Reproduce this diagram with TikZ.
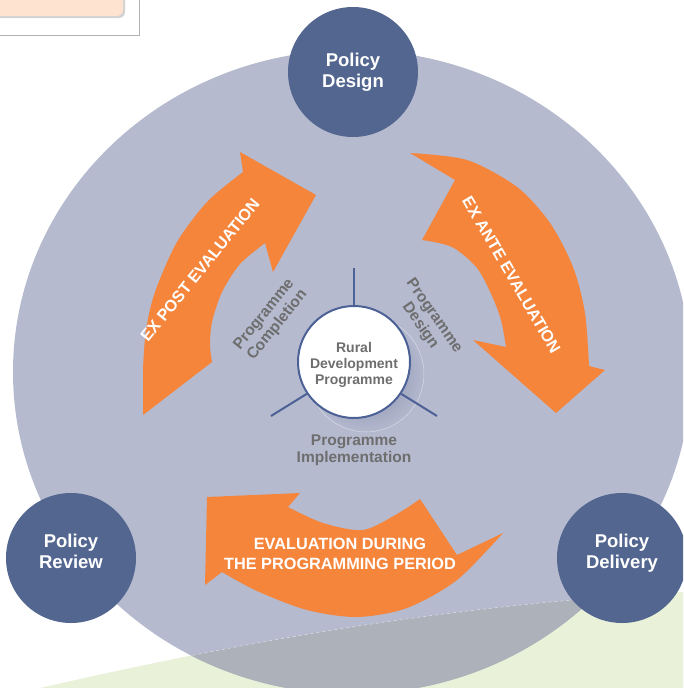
\documentclass[tikz,border=0pt]{standalone}
\usepackage{fontspec}
\setmainfont{Liberation Sans}
\usetikzlibrary{shadows}
\definecolor{lav}{HTML}{B5BACF}
\definecolor{dblue}{HTML}{536690}
\definecolor{orng}{HTML}{F5853B}
\definecolor{grayov}{HTML}{ADB2BA}
\definecolor{greenbg}{HTML}{E9F1D9}
\definecolor{txtgray}{HTML}{6E6E6E}
\definecolor{rimblue}{HTML}{4C6196}
\definecolor{peach}{HTML}{FDE3D0}
\definecolor{shadowc}{HTML}{7F87A6}
\tikzset{
  policy/.style={circle, fill=dblue, minimum size=130pt, inner sep=0pt},
  policytxt/.style={align=center, text=white, font=\bfseries\fontsize{18.5}{21}\selectfont},
  phase/.style={align=center, text=txtgray, font=\bfseries\fontsize{15.5}{17}\selectfont},
  arrowtxt/.style={align=center, text=white, font=\bfseries\fontsize{16.3}{20}\selectfont},
  spoke/.style={draw=rimblue, line width=2pt},
  bigarrow/.style={fill=orng}
}
\begin{document}
\begin{tikzpicture}[x=1pt,y=-1pt]
\useasboundingbox (0,0) rectangle (683,688);
\clip (0,0) rectangle (683,688);
\fill[white] (0,0) rectangle (683,688);
% top-left fragment
\draw[gray!60, line width=1pt, fill=white] (-5,-5) rectangle (139,35.5);
\path[fill=peach, rounded corners=6pt, drop shadow={shadow xshift=2pt,shadow yshift=-2pt,opacity=.35}] (-10,-10) rectangle (123,16);
% green band
\fill[greenbg] (40,688) .. controls (250,640) and (450,605) .. (683,592) -- (683,688) -- cycle;
% big circle
\fill[lav] (352,372) ellipse [x radius=339, y radius=322];
\begin{scope}
  \clip (40,688) .. controls (250,640) and (450,605) .. (683,592) -- (683,688) -- cycle;
  \fill[grayov] (352,372) ellipse [x radius=339, y radius=322];
\end{scope}
\begin{scope}
  \clip (352,372) ellipse [x radius=339, y radius=322];
  \draw[white, opacity=.6, line width=.5pt, dashed] (40,688) .. controls (250,640) and (450,605) .. (683,592);
\end{scope}
% policy circles
\node[policy] (design) at (353,72) {};
\node[policy] (review) at (71,558) {};
\node[policy] (delivery) at (622,558) {};
\node[policytxt] (designtxt) at (353,72) {Policy\\Design};
\node[policytxt] (reviewtxt) at (71,551) {Policy\\Review};
\node[policytxt] (deliverytxt) at (622,553) {Policy\\Delivery};
% orange arrows
\fill[bigarrow] (143,415) -- (143,368) -- plot[smooth] coordinates {(143,368) (146,330) (155,292) (177,242) (208,201) (243,172)} -- (240,152) -- (316,195) -- (273,272) -- (265,243) -- plot[smooth] coordinates {(265,243) (240,264) (222,292) (212,322) (210,345) (212,362)} -- cycle;
\fill[bigarrow] (410,153) -- plot[smooth] coordinates {(410,153) (467,160) (517,187) (550,223) (573,267) (585,313) (589,366)} -- (605,370) -- (556,413) -- (473,340) -- (506,347) -- plot[smooth] coordinates {(506,347) (501,320) (492,296) (477,268) (452,247) (422,240)} -- (455,180) -- cycle;
\fill[bigarrow] (207,497) -- (300,493) -- (288,507) -- plot[smooth] coordinates {(288,507) (323,523) (363,530) (397,514) (420,499)} -- (457,555) -- (503,533) -- plot[smooth] coordinates {(503,533) (457,580) (407,608) (357,617) (307,610) (257,591) (222,572)} -- (205,585) -- cycle;
\node[arrowtxt, rotate=51] (expost) at (200,270) {EX POST EVALUATION};
\node[arrowtxt, rotate=-59.8] (exante) at (511.5,275) {EX ANTE EVALUATION};
\node[arrowtxt] (during) at (340,554) {EVALUATION DURING\\THE PROGRAMMING PERIOD};
% centre
\shade[inner color=shadowc, outer color=lav] (366,374) circle [radius=60pt];
\draw[white, opacity=.5, line width=.5pt] (366,374) circle [radius=58pt];
\coordinate (s1) at (354,268);
\coordinate (s2) at (271,416);
\coordinate (s3) at (437,416);
\node[circle, draw=rimblue, line width=2pt, fill=white, minimum size=112pt, inner sep=0pt] (rdp) at (354,362) {};
\node[align=center, text=txtgray, font=\bfseries\fontsize{14}{16}\selectfont] (rdptxt) at (354,365) {Rural\\Development\\Programme};
\draw[spoke] (rdp.90) -- (s1);
\draw[spoke] (rdp.214) -- (s2);
\draw[spoke] (rdp.326) -- (s3);
\node[phase, rotate=51] (compl) at (271,320) {Programme\\Completion};
\node[phase, rotate=-55] (pdes) at (427,321) {Programme\\Design};
\node[phase] (impl) at (354,450) {Programme\\Implementation};
\end{tikzpicture}
\end{document}
